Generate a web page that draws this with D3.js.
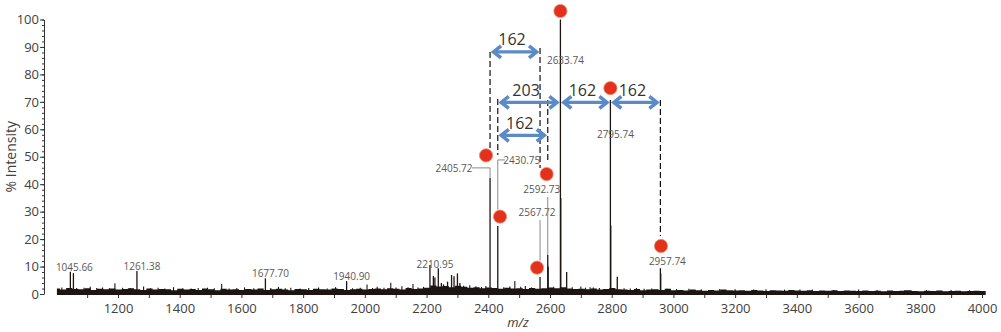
<!DOCTYPE html>
<html>
<head>
<meta charset="utf-8">
<script src="https://cdn.jsdelivr.net/npm/d3@7"></script>
<style>
  html, body { margin: 0; padding: 0; background: #fff; }
  svg { display: block; font-family: "Open Sans", "DejaVu Sans", sans-serif; }
</style>
</head>
<body>
<svg id="chart" width="1001" height="332"></svg>
<script>
// ---- spectrum data (m/z, % intensity) ----

// baseline noise envelope, sampled every 20 m/z from 1002
const noiseStart = 1002;
const noiseStep = 20;
const noiseLevels = [
  2.0,1.6,2.2,1.8,1.7,2.1,1.5,1.9,1.7,2.0,1.6,
  1.8,2.1,1.7,1.5,2.0,1.6,1.8,1.7,1.4,1.9,
  1.6,1.8,1.5,2.0,1.7,1.4,1.9,1.6,1.7,1.5,
  1.8,1.6,2.0,1.5,1.7,1.9,1.6,1.4,1.8,1.7,
  1.5,1.9,1.7,1.6,2.0,1.8,1.5,1.7,1.9,1.6,
  1.8,2.0,1.7,2.1,1.9,1.6,2.2,1.8,2.0,2.3,
  3.1,2.7,2.9,2.5,3.0,2.6,2.3,2.5,2.1,2.4,
  2.2,1.9,2.3,2.0,2.1,1.8,2.2,1.9,2.1,2.4,
  2.1,2.5,2.0,1.8,1.9,1.7,2.0,1.6,1.8,2.2,
  1.7,1.6,1.5,1.8,1.4,1.6,1.7,1.5,1.9,1.4,
  1.5,1.3,1.6,1.4,1.2,1.5,1.3,1.6,1.4,1.3,
  1.4,1.2,1.5,1.3,1.1,1.4,1.3,1.2,1.5,1.3,
  1.2,1.4,1.1,1.3,1.2,1.4,1.1,1.3,1.2,1.1,
  1.3,1.1,1.2,1.0,1.3,1.1,1.2,1.4,1.1,1.0,
  1.2,1.1,1.3,1.0,1.1,1.2,1.0,1.1,1.2,1.1
];

// small noise spikes
const noiseSpikeMz = [1018,1066,1090,1110,1131,1150,1172,1190,1215,1240,1283,1305,1330,1352,1380,1410,1437,1460,1490,1512,1536,1560,1585,1610,1640,1695,1720,1742,1760,1790,1818,1850,1878,1905,1960,1985,2007,2025,2040,2062,2084,2101,2120,2140,2156,2172,2190,2320,2340,2360,2378,2392,2450,2470,2486,2505,2520,2540,2612,2672,2700,2715,2730,2740,2760,2840,2860,2880,2905,2930,2980,3010,3050,3090,3150,3200,3260,3300,3360,3410,3450,3520,3600,3660,3750,3820,3900,3960];
const noiseSpikeInt = [2.4,2.2,2.3,2.6,2.2,2.4,2.1,3.9,2.3,2.2,2.7,2.1,2.3,2.0,2.5,2.1,2.0,2.2,2.3,2.1,3.6,2.0,2.2,2.4,2.1,2.2,2.6,2.1,2.3,2.0,2.2,2.4,2.0,2.5,2.1,2.3,3.5,2.2,2.6,2.3,4.1,2.4,2.8,2.5,3.6,2.4,2.6,3.0,3.2,2.8,2.6,2.9,2.5,2.7,4.7,2.6,2.9,2.4,2.6,2.5,2.7,2.3,2.5,2.4,2.2,2.1,2.0,2.2,1.9,2.0,1.9,1.8,1.9,1.7,1.8,1.7,1.6,1.7,1.6,1.6,1.6,1.5,1.6,1.5,1.5,1.4,1.5,1.4];

// resolved peaks
const peakMz  = [1045.66,1055.5,1261.38,1677.70,1940.90,2210.95,2222,2227,2238,2248,2255,2268,2281,2289,2300,2308,2405.72,2430.75,2567.72,2592.73,2594.0,2633.74,2634.9,2654,2795.74,2796.9,2818,2957.74,2958.8];
const peakInt = [8.1,7.6,8.4,5.7,4.7,10.6,6.6,6.0,9.4,4.0,3.5,4.5,6.9,6.5,7.5,4.0,42.3,24.8,6.2,14.2,10.0,100,35,8.0,70.7,25,6.3,9.4,7.5];

// peak labels
const labelMz   = [1045.66,1261.38,1677.70,1940.90,2210.95,2405.72,2430.75,2567.72,2592.73,2633.74,2795.74,2957.74];
const labelText = ["1045.66","1261.38","1677.70","1940.90","2210.95","2405.72","2430.75","2567.72","2592.73","2633.74","2795.74","2957.74"];

// glycan markers (m/z, marker level in %)
const markerMz  = [2392.7,2438.0,2558.0,2589.0,2633.74,2795.74,2959.7];
const markerLvl = [50.5,28.2,9.6,43.7,103.1,75.0,17.5];

// dashed guides (m/z, upper level, lower level)
const guideMz   = [2405.72,2430.75,2567.72,2592.73,2957.74];
const guideTop  = [88.2,71.0,89.6,70.7,70.7];
const guideBot  = [53.2,50.6,45.9,47.7,21.1];

// mass differences between peaks
const diffFrom  = [2405.72,2430.75,2633.74,2795.74,2430.75];
const diffTo    = [2567.72,2633.74,2795.74,2957.74,2592.73];
const diffLevel = [88.2,69.8,69.8,69.8,57.8];
const diffText  = ["162","203","162","162","162"];

// axis ticks
const xTickValues = d3.range(1100, 4001, 100);
const yMajorTicks = [0,10,20,30,40,50,60,70,80,90,100];
const yMinorTicks = d3.range(0, 101, 2);

// ---- scales ----
const svg = d3.select("#chart");
const x = d3.scaleLinear().domain([1200, 4000]).range([118, 982]);
const y = d3.scaleLinear().domain([0, 100]).range([294, 19.5]);
const ink = "#1c1512";

// ---- y axis ----
const yMinor = svg.append("g").attr("transform", "translate(44,0)")
  .call(d3.axisLeft(y).tickValues(yMinorTicks).tickSize(2).tickSizeOuter(0).tickFormat(""));
yMinor.select(".domain").remove();
yMinor.selectAll("line").attr("stroke", "#333");

const yAxis = svg.append("g").attr("transform", "translate(44,0)")
  .call(d3.axisLeft(y).tickValues(yMajorTicks).tickSize(4).tickSizeOuter(0).tickPadding(1));
yAxis.select(".domain").attr("stroke", "#333");
yAxis.selectAll("line").attr("stroke", "#333");
yAxis.selectAll("text").attr("font-size", 13).attr("fill", "#404040")
  .attr("font-family", "'Open Sans', sans-serif");

svg.append("text")
  .attr("transform", `translate(16,${(y(0) + y(100)) / 2}) rotate(-90)`)
  .attr("text-anchor", "middle")
  .attr("font-size", 14).attr("fill", "#404040")
  .text("% Intensity");

// ---- x axis ----
const xAxis = svg.append("g").attr("transform", `translate(0,${y(0) + 1})`)
  .call(d3.axisBottom(x).tickValues(xTickValues).tickSize(3).tickSizeOuter(0).tickPadding(6)
    .tickFormat(d => d % 200 === 0 ? d : ""));
xAxis.select(".domain").remove();
xAxis.selectAll("line").attr("stroke", "#333");
xAxis.selectAll("text").attr("font-size", 13).attr("fill", "#404040")
  .attr("font-family", "'Open Sans', sans-serif");

svg.append("text")
  .attr("x", 518).attr("y", 327)
  .attr("text-anchor", "middle")
  .attr("font-size", 13).attr("font-style", "italic").attr("fill", "#404040")
  .text("m/z");

// ---- spectrum ----
const noise = noiseLevels.map((v, i) => [noiseStart + i * noiseStep, v]);
noise.push([4012, 1.1]);
svg.append("path")
  .datum(noise)
  .attr("fill", ink)
  .attr("d", d3.area().curve(d3.curveStep)
    .x(d => x(d[0])).y0(y(0) + 1).y1(d => y(d[1])));

svg.append("g").selectAll("line")
  .data(noiseSpikeMz.map((m, i) => [m, noiseSpikeInt[i]]))
  .join("line")
  .attr("x1", d => x(d[0])).attr("x2", d => x(d[0]))
  .attr("y1", y(0)).attr("y2", d => y(d[1]))
  .attr("stroke", ink).attr("stroke-width", 1.1);

svg.append("g").selectAll("line")
  .data(peakMz.map((m, i) => [m, peakInt[i]]))
  .join("line")
  .attr("x1", d => x(d[0])).attr("x2", d => x(d[0]))
  .attr("y1", y(0)).attr("y2", d => y(d[1]))
  .attr("stroke", ink).attr("stroke-width", 1.3);

// ---- dashed guides ----
svg.append("g").selectAll("line")
  .data(guideMz.map((m, i) => [m, guideTop[i], guideBot[i]]))
  .join("line")
  .attr("x1", d => x(d[0])).attr("x2", d => x(d[0]))
  .attr("y1", d => y(d[1])).attr("y2", d => y(d[2]))
  .attr("stroke", "#111").attr("stroke-width", 1.2)
  .attr("stroke-dasharray", "6,3");

// ---- peak labels with leader lines ----
const peakTop = m => y(peakInt[peakMz.indexOf(m)]);
// text offsets (dx from peak, baseline from apex or fixed)
const labelPlace = {
  "1045.66": { dx: 4, base: a => a - 1 },
  "1261.38": { dx: 5, base: a => a - 1 },
  "1677.70": { dx: 5, base: a => a - 1 },
  "1940.90": { dx: 5, base: a => a - 1 },
  "2210.95": { dx: 5, base: a => a + 3 },
  "2405.72": { dx: -36, base: a => a - 6 },
  "2430.75": { dx: 24, base: a => a - 62 },
  "2567.72": { dx: -3, base: a => a - 61 },
  "2592.73": { dx: -6, base: a => a - 62 },
  "2633.74": { dx: 5, base: a => a + 44 },
  "2795.74": { dx: 5, base: a => a + 38 },
  "2957.74": { dx: 7, base: a => a - 3 }
};
const labels = svg.append("g");
labelMz.forEach((m, i) => {
  const p = labelPlace[labelText[i]];
  const a = peakTop(m);
  labels.append("text")
    .attr("x", x(m) + p.dx).attr("y", p.base(a))
    .attr("text-anchor", "middle")
    .attr("font-size", 10).attr("fill", "#585858")
    .text(labelText[i]);
});

// grey leaders from labels down to the peaks
const lead = svg.append("g").attr("stroke", "#8a8a8a").attr("stroke-width", 1).attr("fill", "none");
{
  const m = 2405.72, a = peakTop(m), xl = x(m), yl = a - 10;
  lead.append("path").attr("d", `M${xl - 18},${yl}H${xl}V${a}`);
}
{
  const m = 2430.75, xl = x(m), yl = peakTop(m) - 66;
  const c = y(markerLvl[1]) - 7;
  lead.append("path").attr("d", `M${xl + 7},${yl}H${xl}V${c}`);
}
{
  const m = 2567.72, xl = x(m), yt = peakTop(m) - 57, c = y(markerLvl[2]) - 7;
  lead.append("path").attr("d", `M${xl},${yt}V${c}`);
}
{
  const m = 2592.73, xl = x(m), yt = peakTop(m) - 58;
  lead.append("path").attr("d", `M${xl},${yt}V${peakTop(m)}`);
}

// ---- mass-difference arrows ----
const blue = "#5b8bc6";
const arrows = svg.append("g");
diffFrom.forEach((m0, i) => {
  const x0 = x(m0) + 2.5, x1 = x(diffTo[i]) - 2.5, yy = y(diffLevel[i]);
  const hl = 8.5, hw = 6;
  arrows.append("path")
    .attr("d", `M${x0 + 1},${yy}H${x1 - 1}`)
    .attr("stroke", blue).attr("stroke-width", 3.4).attr("fill", "none");
  arrows.append("path")
    .attr("d", `M${x0 + hl},${yy - hw}L${x0 + 1},${yy}L${x0 + hl},${yy + hw}` +
               `M${x1 - hl},${yy - hw}L${x1 - 1},${yy}L${x1 - hl},${yy + hw}`)
    .attr("stroke", blue).attr("stroke-width", 3.6).attr("fill", "none")
    .attr("stroke-linejoin", "miter").attr("stroke-linecap", "butt");
  arrows.append("text")
    .attr("x", (x0 + x1) / 2 - 3).attr("y", yy - 6.5)
    .attr("text-anchor", "middle")
    .attr("font-size", 16).attr("fill", "#333")
    .text(diffText[i]);
});

// ---- glycan markers ----
svg.append("g").selectAll("circle")
  .data(markerMz.map((m, i) => [m, markerLvl[i]]))
  .join("circle")
  .attr("cx", d => x(d[0])).attr("cy", d => y(d[1]))
  .attr("r", 6.6)
  .attr("fill", "#e2321c")
  .attr("stroke", "#ee8a70").attr("stroke-width", 0.8);
</script>
</body>
</html>
